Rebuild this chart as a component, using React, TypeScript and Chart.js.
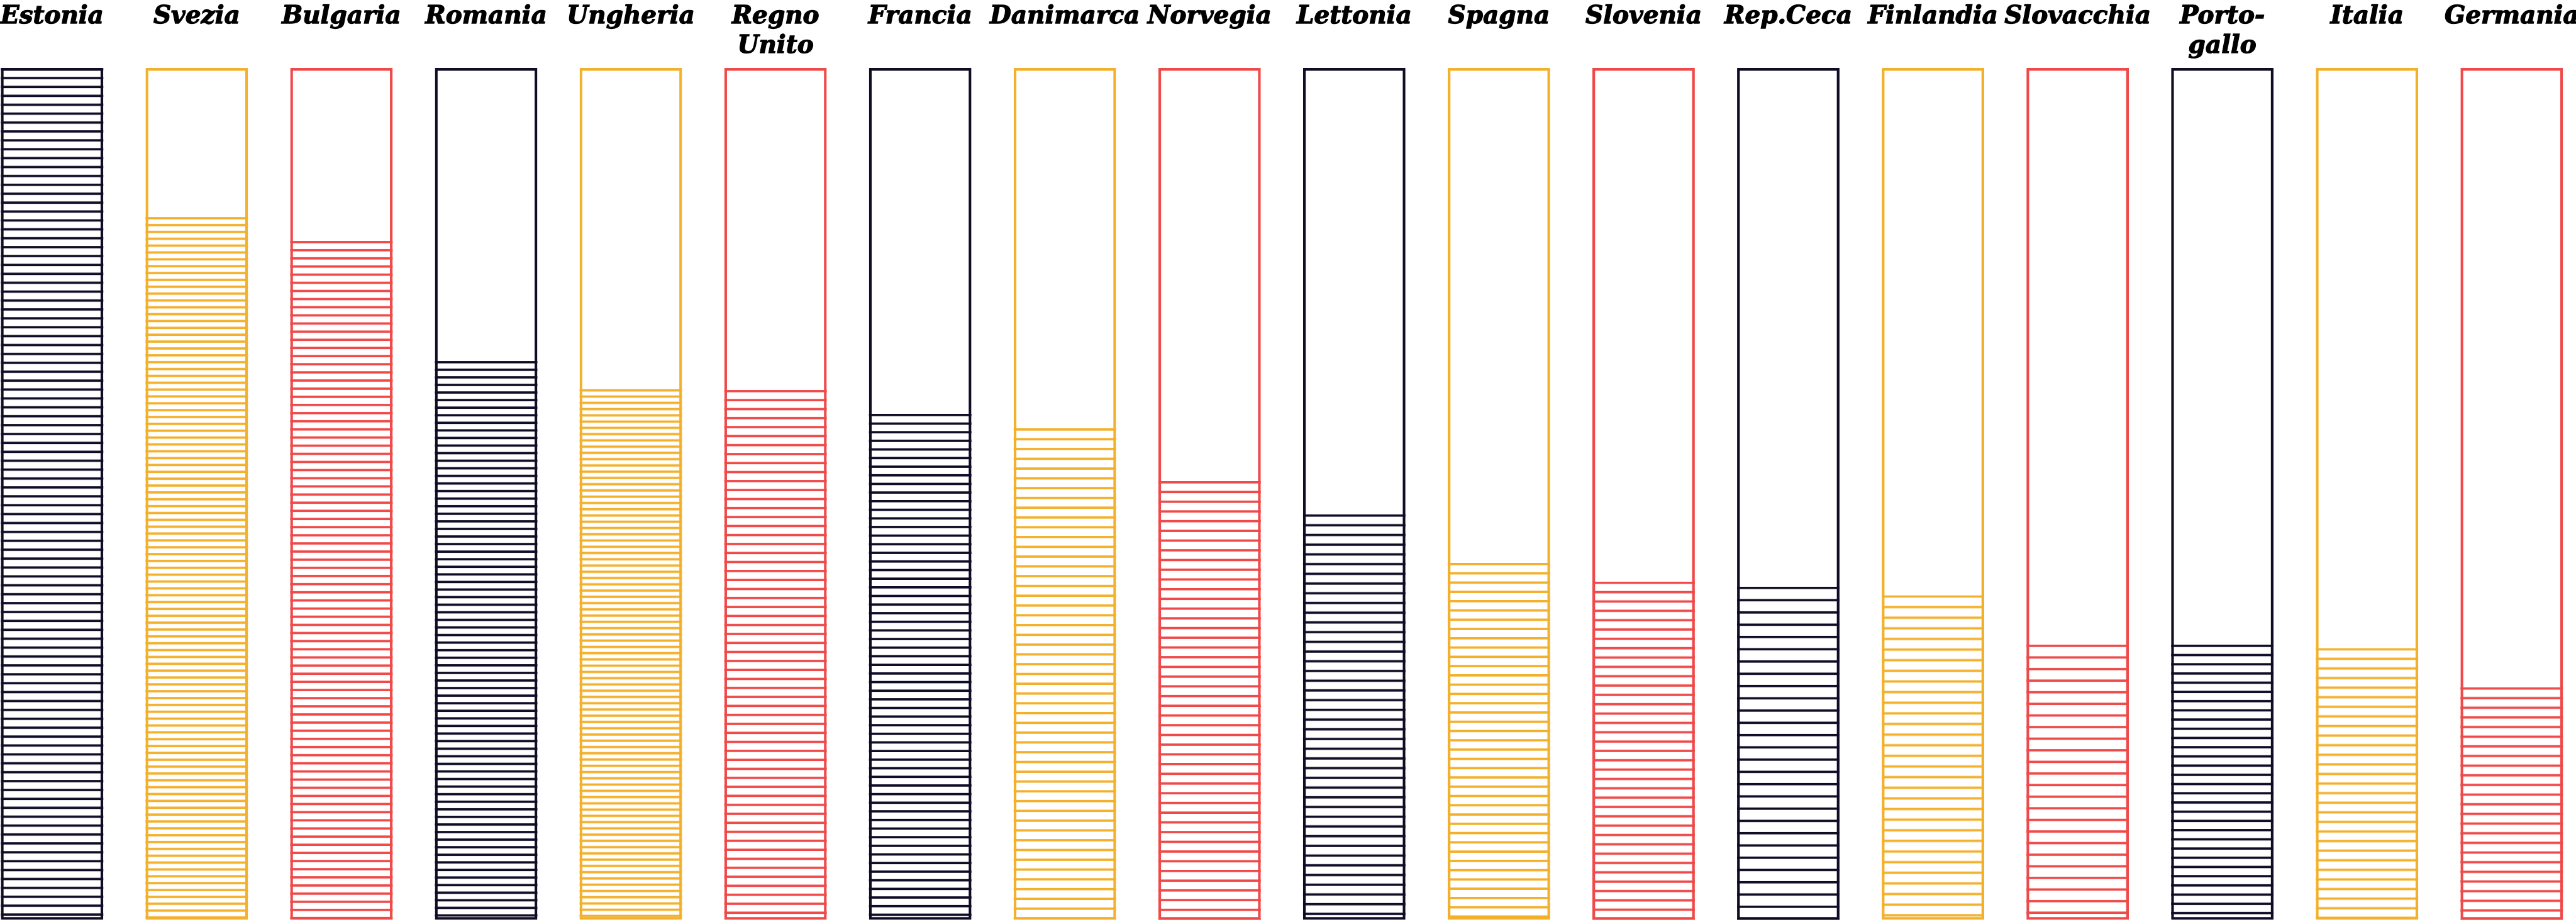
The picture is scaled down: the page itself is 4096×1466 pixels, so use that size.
import React, { useEffect, useRef } from "react";
import { Chart, registerables } from "chart.js";

Chart.register(...registerables);

// Country labels (multi-line where the original wraps)
const countries: string[][] = [
  ["Estonia"], ["Svezia"], ["Bulgaria"], ["Romania"], ["Ungheria"], ["Regno", "Unito"],
  ["Francia"], ["Danimarca"], ["Norvegia"], ["Lettonia"], ["Spagna"], ["Slovenia"],
  ["Rep.Ceca"], ["Finlandia"], ["Slovacchia"], ["Porto-", "gallo"], ["Italia"], ["Germania"],
];

// Filled share (striped part) of each column, in % of the full column
const filledValues = [
  100, 82.5, 79.7, 65.6, 62.3, 62.2, 59.4, 57.7, 51.5, 47.6, 41.9, 39.7, 39.1, 38.1, 32.3, 32.3, 31.9, 27.3,
];

// Full column (outline) value
const outlineValues = [
  100, 100, 100, 100, 100, 100, 100, 100, 100, 100, 100, 100, 100, 100, 100, 100, 100, 100,
];

// Styles
const DARK = "#100c26";
const ORANGE = "#f3b02a";
const RED = "#ef4949";
const barColors = [
  DARK, ORANGE, RED, DARK, ORANGE, RED, DARK, ORANGE, RED,
  DARK, ORANGE, RED, DARK, ORANGE, RED, DARK, ORANGE, RED,
];
// stripe spacing per column (px)
const stripeSpacing = [
  14.16, 10.9, 12.93, 12.06, 9.94, 14.28, 13.7, 15.54, 15.44,
  15.44, 14.76, 14.86, 19.49, 16.89, 18.43, 14.67, 15.25, 15.34,
];
const STRIPE_THICKNESS = 3.7;

function makePattern(ctx: CanvasRenderingContext2D, color: string, spacing: number) {
  const n = 20;
  const c = document.createElement("canvas");
  c.width = 8;
  c.height = Math.round(spacing * n);
  const g = c.getContext("2d")!;
  g.fillStyle = color;
  for (let i = 0; i < n; i++) g.fillRect(0, i * (c.height / n), 8, STRIPE_THICKNESS);
  return ctx.createPattern(c, "repeat")!;
}

export default function App() {
  const ref = useRef<HTMLCanvasElement | null>(null);

  useEffect(() => {
    const canvas = ref.current!;
    const ctx = canvas.getContext("2d")!;
    const patterns = barColors.map((c, i) => makePattern(ctx, c, stripeSpacing[i]));

    const alignPlugin = {
      id: "stripeAlign",
      beforeDatasetDraw(chart: any, args: any) {
        if (args.index !== 1) return;
        args.meta.data.forEach((el: any, i: number) => {
          const p: any = patterns[i];
          if (p && p.setTransform) p.setTransform(new DOMMatrix().translate(0, el.y));
        });
      },
    };

    const chart = new Chart(ctx, {
      type: "bar",
      data: {
        labels: countries,
        datasets: [
          {
            label: "outline",
            data: outlineValues,
            backgroundColor: "rgba(0,0,0,0)",
            borderColor: barColors,
            borderWidth: 4.3,
            borderSkipped: false,
            grouped: false,
            clip: false,
            categoryPercentage: 0.708,
            barPercentage: 1,
          } as any,
          {
            label: "filled",
            data: filledValues,
            backgroundColor: patterns as any,
            borderWidth: 0,
            grouped: false,
            clip: false,
            categoryPercentage: 0.708,
            barPercentage: 1,
          } as any,
        ],
      },
      options: {
        animation: false,
        responsive: true,
        maintainAspectRatio: false,
        devicePixelRatio: 1,
        layout: { padding: { top: -7.5, bottom: 3.5, left: 82.8, right: 102.2 } },
        plugins: { legend: { display: false }, tooltip: { enabled: false } },
        scales: {
          x: {
            position: "top",
            offset: false,
            grid: { display: false, drawTicks: false },
            border: { display: false },
            afterFit(scale: any) {
              scale.paddingLeft = 0;
              scale.paddingRight = 0;
            },
            ticks: {
              autoSkip: false,
              maxRotation: 0,
              minRotation: 0,
              crossAlign: "far",
              padding: 11.5,
              color: "#000",
              textStrokeColor: "#000",
              textStrokeWidth: 1.3,
              font: { family: "'DejaVu Serif'", size: 39, weight: "bold", style: "italic", lineHeight: 1.187 },
            },
          },
          y: {
            display: false,
            min: 0,
            max: 100,
          },
        },
      } as any,
      plugins: [alignPlugin],
    });
    return () => chart.destroy();
  }, []);

  return (
    <div style={{ position: "absolute", left: 0, top: 0, width: 4096, height: 1466, background: "#fff" }}>
      <canvas ref={ref} />
    </div>
  );
}
